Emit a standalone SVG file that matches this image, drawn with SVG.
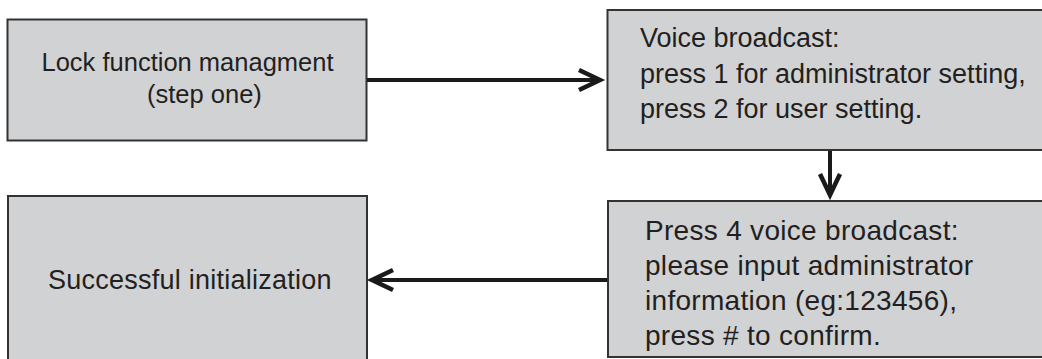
<svg xmlns="http://www.w3.org/2000/svg" width="1042" height="359" viewBox="0 0 1042 359">
  <style>
    .box { fill: #d1d2d4; stroke: #333333; stroke-width: 2; }
    .txt { font-family: "Liberation Sans", Arial, sans-serif; fill: #231f20; }
    .conn { stroke: #1a1a1a; stroke-width: 4; fill: none; marker-end: url(#chev); }
  </style>
  <defs>
    <marker id="chev" markerUnits="userSpaceOnUse" markerWidth="30" markerHeight="26" refX="21" refY="10" orient="auto" overflow="visible">
      <path d="M0,0 L21,10 L0,20" fill="none" stroke="#1a1a1a" stroke-width="4.5" stroke-linejoin="miter"/>
    </marker>
  </defs>
  <rect x="0" y="0" width="1042" height="359" fill="#ffffff"/>

  <g id="node-lock">
    <rect class="box" x="7.5" y="19.5" width="359" height="121"/>
    <text class="txt" font-size="25.5" x="41.5" y="70.5">Lock function managment</text>
    <text class="txt" font-size="25.5" x="147" y="103">(step one)</text>
  </g>

  <g id="node-voice">
    <rect class="box" x="607.5" y="10" width="440" height="140"/>
    <text class="txt" font-size="27" x="640" y="47">Voice broadcast:</text>
    <text class="txt" font-size="27" x="640" y="82.5">press 1 for administrator setting,</text>
    <text class="txt" font-size="27" x="640" y="118">press 2 for user setting.</text>
  </g>

  <g id="node-success">
    <rect class="box" x="8" y="196" width="359" height="200"/>
    <text class="txt" font-size="27" letter-spacing="0.25" x="48" y="289">Successful initialization</text>
  </g>

  <g id="node-press4">
    <rect class="box" x="608" y="201" width="440" height="156"/>
    <text class="txt" font-size="28" letter-spacing="0.3" x="645" y="239.5">Press 4 voice broadcast:</text>
    <text class="txt" font-size="28" letter-spacing="0.3" x="645" y="274.5">please input administrator</text>
    <text class="txt" font-size="28" letter-spacing="0.3" x="645" y="310">information (eg:123456),</text>
    <text class="txt" font-size="28" letter-spacing="0.3" x="645" y="345">press # to confirm.</text>
  </g>

  <g id="connectors">
    <line class="conn" x1="367" y1="80" x2="600" y2="80"/>
    <line class="conn" x1="830" y1="151" x2="830" y2="195"/>
    <line class="conn" x1="607" y1="280" x2="372" y2="280"/>
  </g>
</svg>
